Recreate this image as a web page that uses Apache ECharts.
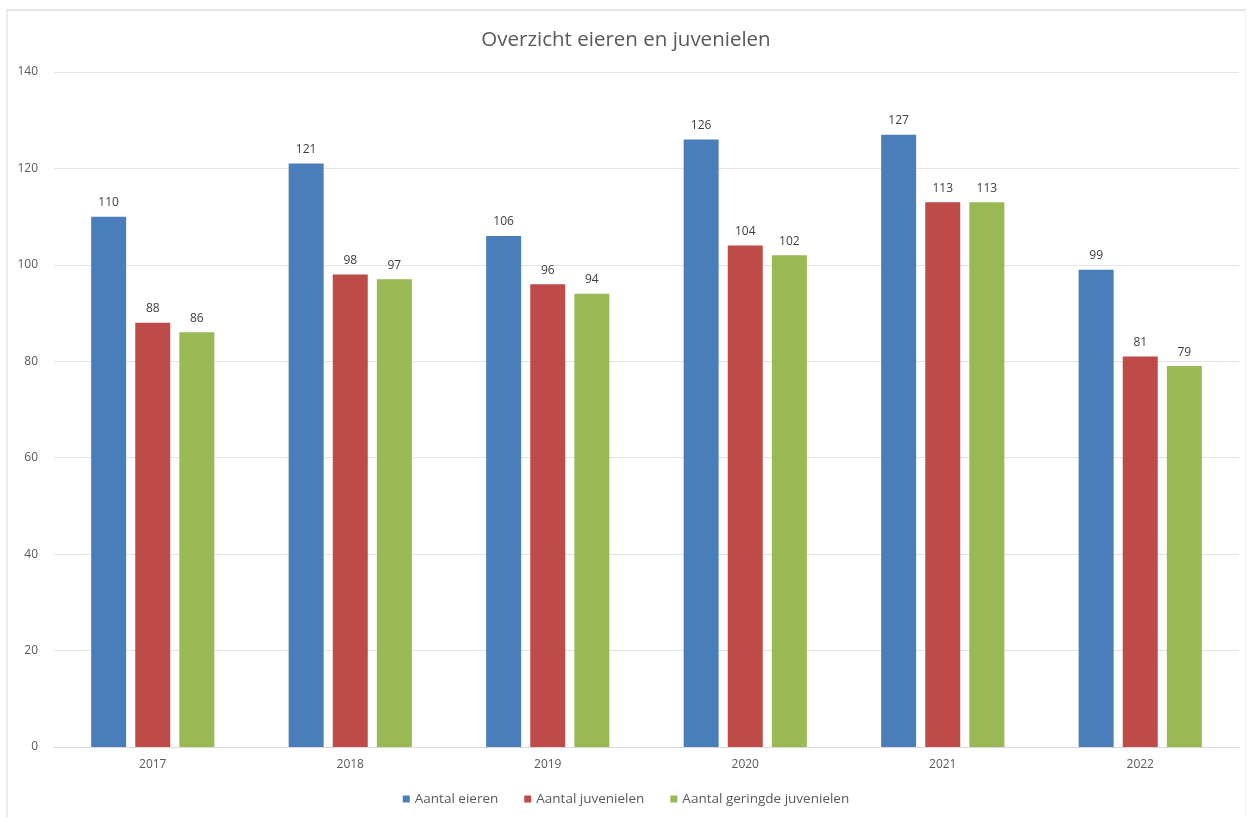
<!DOCTYPE html>
<html>
<head>
<meta charset="utf-8">
<script src="https://cdn.jsdelivr.net/npm/echarts@6/dist/echarts.min.js"></script>
<style>
html,body{margin:0;padding:0;background:#fff;}
#frame{position:absolute;left:6px;top:9px;width:1240px;height:808px;border-top:2px solid #e4e4e4;border-left:2px solid #ececec;border-right:1px solid #f0f0f0;box-sizing:border-box;}
#chart{position:absolute;left:0;top:0;width:1252px;height:820px;}
</style>
</head>
<body>
<div id="frame"></div>
<div id="chart"></div>
<script>
const categories = ['2017','2018','2019','2020','2021','2022'];
const eieren = [110,121,106,126,127,99];
const juvenielen = [88,98,96,104,113,81];
const geringd = [86,97,94,102,113,79];
const seriesNames = ['Aantal eieren','Aantal juvenielen','Aantal geringde juvenielen'];
const yTicks = [0,20,40,60,80,100,120,140];

const chart = echarts.init(document.getElementById('chart'));
const labelStyle = {show:true, position:'top', distance:8, color:'#404040', fontSize:12, fontFamily:'Open Sans'};
function mk(name, data, color){
  return {name, type:'bar', data, barWidth:35, barGap:'26%', itemStyle:{color}, label:labelStyle};
}
chart.setOption({
  animation:false,
  title:{text:'Overzicht eieren en juvenielen', left:'center', top:25, textStyle:{fontSize:20.5, fontWeight:'normal', color:'#595959', fontFamily:'Open Sans'}},
  legend:{bottom:9, left:'center', itemWidth:7, itemHeight:7, itemGap:26, icon:'rect',
    textStyle:{fontSize:13.5, color:'#595959', fontFamily:'Open Sans'}, data:seriesNames},
  grid:{left:54, right:13, top:72, bottom:73, containLabel:false},
  xAxis:{type:'category', data:categories,
    axisLine:{lineStyle:{color:'#d9d9d9'}}, axisTick:{show:false},
    axisLabel:{color:'#595959', fontSize:12, margin:12, fontFamily:'Open Sans'}},
  yAxis:{type:'value', min:yTicks[0], max:yTicks[yTicks.length-1], interval:20,
    axisLine:{show:false}, axisTick:{show:false},
    splitLine:{lineStyle:{color:'#e3e3e3'}},
    axisLabel:{color:'#595959', fontSize:12, margin:16, fontFamily:'Open Sans'}},
  series:[mk(seriesNames[0], eieren, '#4a7ebb'), mk(seriesNames[1], juvenielen, '#be4b48'), mk(seriesNames[2], geringd, '#98b954')]
});
</script>
</body>
</html>
